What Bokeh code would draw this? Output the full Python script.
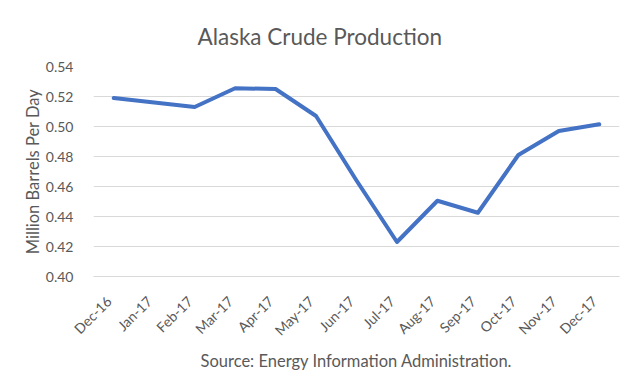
from bokeh.plotting import figure
from bokeh.models import FixedTicker, NumeralTickFormatter, Range1d, Title
from bokeh.embed import file_html
from bokeh.resources import INLINE
import math

months = ["Dec-16", "Jan-17", "Feb-17", "Mar-17", "Apr-17", "May-17", "Jun-17",
          "Jul-17", "Aug-17", "Sep-17", "Oct-17", "Nov-17", "Dec-17"]
production = [0.519, 0.516, 0.513, 0.5255, 0.525, 0.507, 0.464,
              0.423, 0.4505, 0.4425, 0.481, 0.497, 0.5015]
y_ticks = [0.40, 0.42, 0.44, 0.46, 0.48, 0.50, 0.52, 0.54]
title_text = "Alaska Crude Production"
y_title = "Million Barrels Per Day"
source_text = "Source: Energy Information Administration."

TEXT = "#595959"
GRID = "#D9D9D9"
FONT = "Lato"
FW, FH = 526, 210
LABEL_SHIFT = 0.12  # rotated labels end at their category (Excel style)

n = len(months)
x_pos = [i + 0.5 for i in range(n)]          # category centres
tick_pos = [x - LABEL_SHIFT for x in x_pos]   # where rotated label boxes are centred

p = figure(x_range=Range1d(0, n), y_range=Range1d(0.40, 0.54),
           frame_width=FW, frame_height=FH, output_backend="svg", toolbar_location=None,
           min_border_left=93, min_border_right=5, min_border_top=66, min_border_bottom=93)
p.title = None
p.add_layout(Title(text=title_text, align="left", offset=104, standoff=34,
                   text_font=FONT, text_font_size="22.5px", text_font_style="normal",
                   text_color=TEXT), "above")

p.line(x=x_pos, y=production, line_color="#4472C4", line_width=4,
       line_join="round", line_cap="round")

p.outline_line_color = None
p.xgrid.grid_line_color = None
p.ygrid.grid_line_color = GRID
p.ygrid.grid_line_width = 1

ya = p.yaxis[0]
ya.ticker = FixedTicker(ticks=y_ticks)
ya.formatter = NumeralTickFormatter(format="0.00")
ya.axis_line_color = None
ya.major_tick_line_color = None
ya.minor_tick_line_color = None
ya.major_label_standoff = 14
ya.major_label_text_font = FONT
ya.major_label_text_font_size = "14px"
ya.major_label_text_color = TEXT
ya.axis_label = y_title
ya.axis_label_text_font = FONT
ya.axis_label_text_font_size = "16.5px"
ya.axis_label_text_font_style = "normal"
ya.axis_label_text_color = TEXT
ya.axis_label_standoff = 0

xa = p.xaxis[0]
xa.ticker = FixedTicker(ticks=tick_pos)
xa.major_label_overrides = {t: m for t, m in zip(tick_pos, months)}
xa.axis_line_color = GRID
xa.major_tick_line_color = None
xa.minor_tick_line_color = None
xa.major_label_orientation = math.pi / 4
xa.major_label_standoff = 16
xa.major_label_text_font = FONT
xa.major_label_text_font_size = "14px"
xa.major_label_text_color = TEXT
xa.axis_label = source_text
xa.axis_label_text_font = FONT
xa.axis_label_text_font_size = "16.5px"
xa.axis_label_text_font_style = "normal"
xa.axis_label_text_color = TEXT
xa.axis_label_standoff = 3

open("out.html", "w").write(file_html(p, INLINE))
